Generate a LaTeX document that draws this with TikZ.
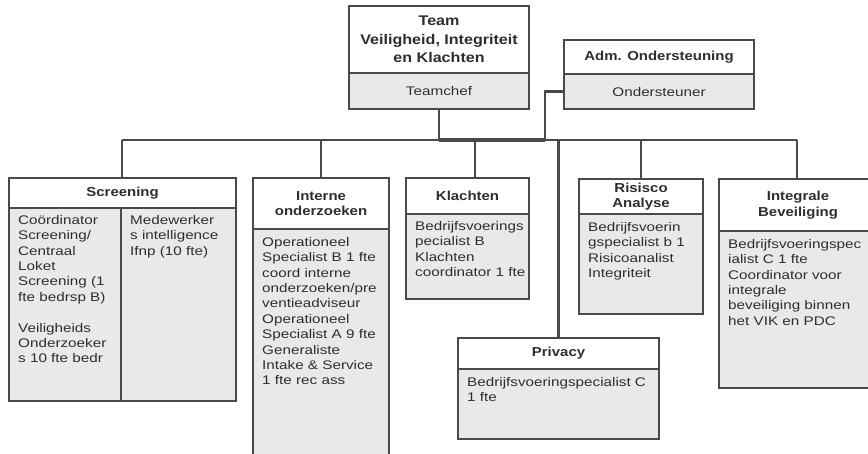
\documentclass[tikz,border=0pt]{standalone}
\usepackage{fontspec}
\usetikzlibrary{calc}
\newfontfamily\bodyf{Liberation Sans}[FakeStretch=1.22]
\newfontfamily\titlef{Liberation Sans}[FakeStretch=1.15]
\definecolor{txt}{HTML}{2E2E2E}
\definecolor{edge}{HTML}{4A4A4A}
\definecolor{fillg}{HTML}{E9E9E9}
\begin{document}
\begin{tikzpicture}[x=1pt,y=-1pt,
  boxw/.style={draw=edge, line width=2.1pt, fill=white, inner sep=0pt, anchor=north west},
  boxg/.style={boxw, fill=fillg},
  ttl/.style={font=\titlef\bfseries\fontsize{13}{15.5}\selectfont, text=txt, align=center},
  bigttl/.style={font=\titlef\bfseries\fontsize{14}{18.5}\selectfont, text=txt, align=center},
  plain/.style={font=\bodyf\fontsize{12.5}{15.4}\selectfont, text=txt, align=center},
  bodytext/.style={font=\bodyf\fontsize{12.5}{15.4}\selectfont, text=txt, align=left, inner sep=0pt, anchor=north west},
  conn/.style={draw=edge, line width=2.7pt}
]
\useasboundingbox (0,0) rectangle (868,453);
\fill[white] (0,0) rectangle (868,453);
\clip (0,0) rectangle (868,453);

% top boxes
\node[boxw, bigttl, minimum width=180pt, minimum height=67pt] (teamT) at (348,5) {Team\\Veiligheid, Integriteit\\en Klachten};
\node[boxg, plain, minimum width=180pt, minimum height=36pt] (teamB) at (348,72) {Teamchef};
\node[boxw, ttl, minimum width=190pt, minimum height=34pt] (admT) at (563,39) {Adm. Ondersteuning};
\node[boxg, plain, minimum width=190pt, minimum height=35pt] (admB) at (563,73) {Ondersteuner};

% Screening
\node[boxw, ttl, minimum width=227pt, minimum height=30pt] (scrT) at (8,177) {Screening};
\node[boxg, minimum width=112pt, minimum height=193pt] (scrB1) at (8,207) {};
\node[boxg, minimum width=115pt, minimum height=193pt] (scrB2) at (120,207) {};
\node[bodytext] (scrB1t) at ($(scrB1.north west)+(10,8)$) {Coördinator\\Screening/\\Centraal\\Loket\\Screening (1\\fte bedrsp B)\\[15.4pt]Veiligheids\\Onderzoeker\\s 10 fte bedr};
\node[bodytext] (scrB2t) at ($(scrB2.north west)+(10,8)$) {Medewerker\\s intelligence\\Ifnp (10 fte)};

% Interne onderzoeken
\node[boxw, ttl, minimum width=136pt, minimum height=51pt] (intT) at (252,177) {Interne\\onderzoeken};
\node[boxg, minimum width=136pt, minimum height=240pt] (intB) at (252,228) {};
\node[bodytext] (intBt) at ($(intB.north west)+(10,9)$) {Operationeel\\Specialist B 1 fte\\coord interne\\onderzoeken/pre\\ventieadviseur\\Operationeel\\Specialist A 9 fte\\Generaliste\\Intake \& Service\\1 fte rec ass};

% Klachten
\node[boxw, ttl, minimum width=123pt, minimum height=36pt] (klT) at (405,177) {Klachten};
\node[boxg, minimum width=123pt, minimum height=85pt] (klB) at (405,213) {};
\node[bodytext] (klBt) at ($(klB.north west)+(10,8)$) {Bedrijfsvoerings\\pecialist B\\Klachten\\coordinator 1 fte};

% Risisco Analyse
\node[boxw, ttl, minimum width=124pt, minimum height=35pt] (risT) at (578,178) {Risisco\\Analyse};
\node[boxg, minimum width=124pt, minimum height=100pt] (risB) at (578,213) {};
\node[bodytext] (risBt) at ($(risB.north west)+(10,9)$) {Bedrijfsvoerin\\gspecialist b 1\\Risicoanalist\\Integriteit};

% Integrale Beveiliging
\node[boxw, ttl, minimum width=158pt, minimum height=52pt] (igT) at (718,178) {Integrale\\Beveiliging};
\node[boxg, minimum width=158pt, minimum height=157pt] (igB) at (718,230) {};
\node[bodytext] (igBt) at ($(igB.north west)+(10,9)$) {Bedrijfsvoeringspec\\ialist C 1 fte\\Coordinator voor\\integrale\\beveiliging binnen\\het VIK en PDC};

% Privacy
\node[boxw, ttl, minimum width=201pt, minimum height=31pt] (prT) at (457,337) {Privacy};
\node[boxg, minimum width=201pt, minimum height=70pt] (prB) at (457,368) {};
\node[bodytext] (prBt) at ($(prB.north west)+(10,9)$) {Bedrijfsvoeringspecialist C\\1 fte};

% connectors
\coordinate (busL) at (122,140);
\coordinate (busR) at (797,140);
\coordinate (busA) at (545,140);
\coordinate (klD) at (475,140);
\draw[conn] (busL) -- (busR);
\draw[conn, line width=4pt] (teamB.south |- busL) -- (busA);
\draw[conn] (teamB.south) -- (teamB.south |- busL);
\draw[conn] (admB.west) -| (busA);
\draw[conn] (busL) -- (busL |- scrT.north);
\draw[conn] (intT.north |- busL) -- (intT.north);
\draw[conn] (klD) -- (klD |- klT.north);
\draw[conn] (prT.north |- busL) -- (prT.north);
\draw[conn] (risT.north |- busL) -- (risT.north);
\draw[conn] (busR) -- (busR |- igT.north);
\end{tikzpicture}
\end{document}
